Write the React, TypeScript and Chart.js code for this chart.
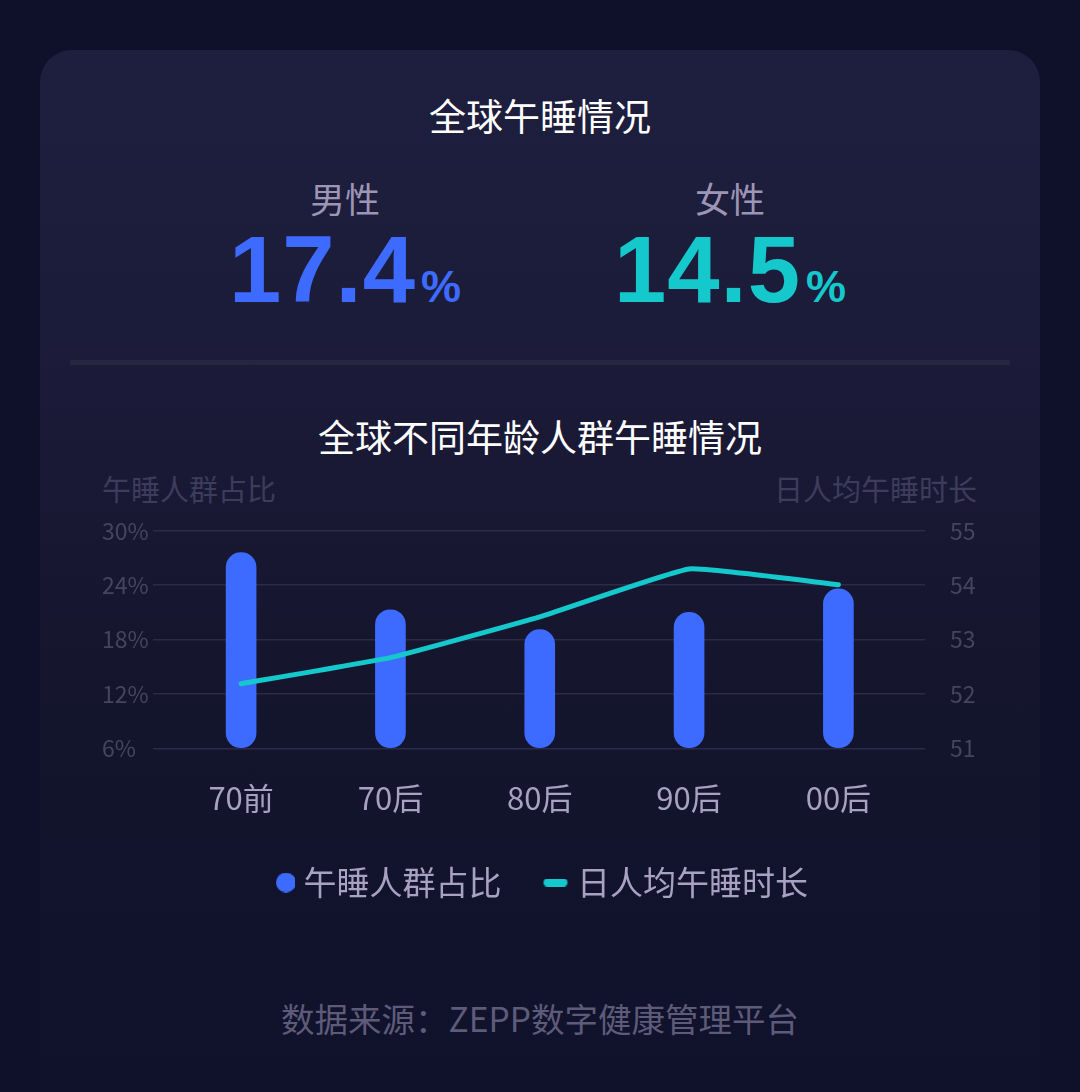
import React, { useEffect, useRef } from "react";
import { Chart, registerables } from "chart.js";

Chart.register(...registerables);

// ---- data ----
const categories = ["70前", "70后", "80后", "90后", "00后"];
const napShare = [27.6, 21.3, 19.1, 21.0, 23.6];
const napMinutes = [52.19, 52.67, 53.42, 54.3, 54.01];
const shareTicks = [6, 12, 18, 24, 30];
const minuteTicks = [51, 52, 53, 54, 55];
const legendLabels = ["午睡人群占比", "日人均午睡时长"];
const genderLabels = ["男性", "女性"];
const genderValues = ["17.4", "14.5"];

const FONT = '"Noto Sans CJK SC", "Noto Sans", sans-serif';
const NUM_FONT = '"Liberation Sans", Arial, sans-serif';
const BLUE = "#3e6bff";
const TEAL = "#14c8cb";

function makeCircle(): HTMLCanvasElement {
  const c = document.createElement("canvas");
  c.width = 31;
  c.height = 20;
  const g = c.getContext("2d")!;
  g.fillStyle = BLUE;
  g.beginPath();
  g.arc(22, 10, 10, 0, Math.PI * 2);
  g.fill();
  return c;
}

function makeDash(): HTMLCanvasElement {
  const c = document.createElement("canvas");
  c.width = 31;
  c.height = 8;
  const g = c.getContext("2d")!;
  g.fillStyle = TEAL;
  g.beginPath();
  (g as any).roundRect(6, 0, 24, 8, 4);
  g.fill();
  return c;
}

function NapChart() {
  const ref = useRef<HTMLCanvasElement | null>(null);
  useEffect(() => {
    if (!ref.current) return;
    const circleImg = makeCircle();
    const dashImg = makeDash();
    const chart = new Chart(ref.current, {
      type: "bar",
      data: {
        datasets: [
          {
            type: "bar",
            label: legendLabels[0],
            data: categories.map((_, i) => ({ x: i, y: napShare[i] })),
            backgroundColor: BLUE,
            borderRadius: 15,
            borderSkipped: false,
            barThickness: 30,
            base: shareTicks[0],
            yAxisID: "y",
            order: 2,
          } as any,
          {
            type: "line",
            label: legendLabels[1],
            data: categories.map((_, i) => ({ x: i, y: napMinutes[i] })),
            borderColor: TEAL,
            backgroundColor: TEAL,
            borderWidth: 5,
            pointRadius: 0,
            tension: 0.1,
            yAxisID: "y1",
            order: 1,
            clip: false,
            borderCapStyle: "round",
            borderJoinStyle: "round",
          } as any,
        ],
      },
      options: {
        responsive: false,
        animation: false,
        devicePixelRatio: 1,
        layout: { padding: { top: 20, left: 102, right: 102, bottom: 0 } },
        scales: {
          x: {
            type: "linear",
            min: -0.59,
            max: 4.58,
            offset: false,
            grid: { display: false, drawTicks: false },
            border: { display: false },
            afterBuildTicks: (s: any) => {
              s.ticks = categories.map((_, i) => ({ value: i }));
            },
            afterFit: (s: any) => {
              s.height = 73.5;
            },
            ticks: {
              autoSkip: false,
              maxRotation: 0,
              padding: 31,
              color: "#a8a1c2",
              font: { size: 31, family: FONT },
              callback: (v: any) => categories[v as number],
            },
          },
          y: {
            position: "left",
            min: shareTicks[0],
            max: shareTicks[shareTicks.length - 1],
            afterBuildTicks: (s: any) => {
              s.ticks = shareTicks.map((v) => ({ value: v }));
            },
            afterFit: (s: any) => {
              s.width = 51;
            },
            grid: { color: "#2b2b48", lineWidth: 1.5, drawTicks: false },
            border: { display: false },
            ticks: {
              crossAlign: "far",
              padding: 5,
              color: "#46455f",
              font: { size: 23, family: FONT },
              callback: (v: any) => v + "%",
            },
          },
          y1: {
            position: "right",
            min: minuteTicks[0],
            max: minuteTicks[minuteTicks.length - 1],
            afterBuildTicks: (s: any) => {
              s.ticks = minuteTicks.map((v) => ({ value: v }));
            },
            afterFit: (s: any) => {
              s.width = 53;
            },
            grid: { display: false, drawTicks: false },
            border: { display: false },
            ticks: {
              padding: 25,
              color: "#46455f",
              font: { size: 23, family: FONT },
            },
          },
        } as any,
        plugins: {
          tooltip: { enabled: false },
          legend: {
            position: "bottom",
            labels: {
              usePointStyle: true,
              pointStyleWidth: 15,
              padding: 44,
              color: "#a8a1c2",
              font: { size: 33, family: FONT },
              generateLabels: () => [
                {
                  text: legendLabels[0],
                  pointStyle: circleImg as any,
                  fillStyle: BLUE,
                  strokeStyle: "transparent",
                  lineWidth: 0,
                  hidden: false,
                  datasetIndex: 0,
                  fontColor: "#a8a1c2",
                } as any,
                {
                  text: legendLabels[1],
                  pointStyle: dashImg as any,
                  fillStyle: TEAL,
                  strokeStyle: "transparent",
                  lineWidth: 0,
                  hidden: false,
                  datasetIndex: 1,
                  fontColor: "#a8a1c2",
                } as any,
              ],
            },
          },
        },
      } as any,
    });
    return () => chart.destroy();
  }, []);
  return (
    <canvas
      ref={ref}
      width={1080}
      height={417}
      style={{ position: "absolute", left: 0, top: 492, width: 1080, height: 417 }}
    />
  );
}

const abs = (o: React.CSSProperties): React.CSSProperties => ({ position: "absolute", ...o });

export default function App() {
  const colX = [345, 730];
  const colColors = [BLUE, TEAL];
  return (
    <div
      style={{
        position: "absolute",
        left: 0,
        top: 0,
        width: 1080,
        height: 1092,
        overflow: "hidden",
        background: "#0f1029",
        fontFamily: FONT,
      }}
    >
      <div
        style={abs({
          left: 40,
          top: 50,
          width: 1000,
          height: 1100,
          borderRadius: "32px 32px 0 0",
          background:
            "linear-gradient(180deg, #1e1e3e 0%, #1b1b39 30%, #15152e 55%, #11122b 80%, #10112a 100%)",
        })}
      />
      <div
        style={abs({
          left: 0,
          width: 1080,
          top: 97,
          textAlign: "center",
          fontSize: 37,
          lineHeight: "37px",
          color: "#ffffff",
        })}
      >
        全球午睡情况
      </div>
      {genderLabels.map((g, i) => (
        <React.Fragment key={g}>
          <div
            style={abs({
              left: colX[i] - 150,
              width: 300,
              top: 180,
              textAlign: "center",
              fontSize: 35,
              lineHeight: "35px",
              color: "#9d95b5",
            })}
          >
            {g}
          </div>
          <div
            style={abs({
              left: colX[i] - 200,
              width: 400,
              top: 223,
              display: "flex",
              justifyContent: "center",
              alignItems: "baseline",
              color: colColors[i],
              fontFamily: NUM_FONT,
              fontWeight: 700,
              lineHeight: 1,
            })}
          >
            <span style={{ fontSize: 94, letterSpacing: 1 }}>{genderValues[i]}</span>
            <span style={{ fontSize: 45, marginLeft: 5 }}>%</span>
          </div>
        </React.Fragment>
      ))}
      <div style={abs({ left: 70, width: 940, top: 360, height: 5, background: "#26263f" })} />
      <div
        style={abs({
          left: 0,
          width: 1080,
          top: 418,
          textAlign: "center",
          fontSize: 37,
          lineHeight: "37px",
          color: "#ffffff",
        })}
      >
        全球不同年龄人群午睡情况
      </div>
      <div style={abs({ left: 102, top: 474, fontSize: 29, lineHeight: "29px", color: "#3d3c5c" })}>
        {legendLabels[0]}
      </div>
      <div
        style={abs({
          right: 103,
          top: 474,
          fontSize: 29,
          lineHeight: "29px",
          color: "#3d3c5c",
          textAlign: "right",
        })}
      >
        {legendLabels[1]}
      </div>
      <NapChart />
      <div
        style={abs({
          left: 0,
          width: 1080,
          top: 1001,
          textAlign: "center",
          fontSize: 33.5,
          lineHeight: "33.5px",
          color: "#5e5b7a",
        })}
      >
        数据来源：ZEPP数字健康管理平台
      </div>
    </div>
  );
}
